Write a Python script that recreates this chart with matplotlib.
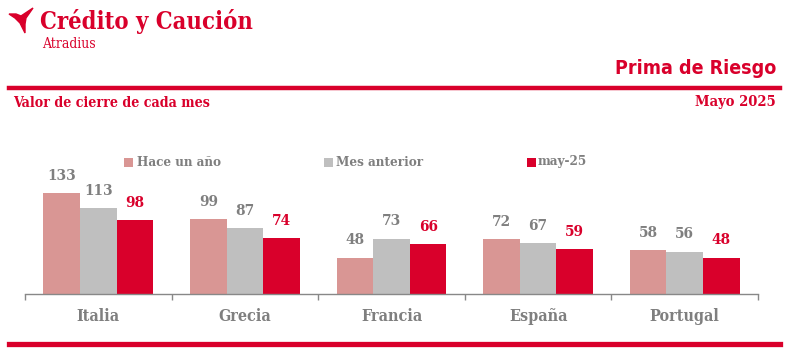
import matplotlib
matplotlib.use("Agg")
import matplotlib.pyplot as plt
from matplotlib.patches import Polygon
import numpy as np

countries = ["Italia", "Grecia", "Francia", "España", "Portugal"]
series_names = ["Hace un año", "Mes anterior", "may-25"]
hace_un_ano = [133, 99, 48, 72, 58]
mes_anterior = [113, 87, 73, 67, 56]
may_25 = [98, 74, 66, 59, 48]

RED = "#D9002B"
PINK = "#D99694"
LGRAY = "#BFBFBF"
TGRAY = "#7F7F7F"
colors = [PINK, LGRAY, RED]
label_colors = [TGRAY, TGRAY, RED]

W, H = 789, 354
fig = plt.figure(figsize=(W / 100, H / 100), dpi=100)

SERIF = {"family": "DejaVu Serif", "stretch": "condensed", "weight": "bold"}
SANS = {"family": "DejaVu Sans", "stretch": "condensed", "weight": "bold"}

def fx(x):
    return x / W

def fy(y):
    return 1 - y / H

# Header
fig.text(fx(40), fy(21), "Crédito y Caución", color=RED, fontsize=17, va="center", ha="left", **SERIF)
fig.text(fx(42), fy(44), "Atradius", color=RED, fontsize=10, va="center", ha="left", family="DejaVu Serif", stretch="condensed")
logo = [(9, 14), (16, 14), (21, 16), (33, 8), (26, 18), (25, 24), (25, 33), (20, 23), (15, 18)]
fig.patches.append(Polygon([(fx(x), fy(y)) for x, y in logo], closed=True, transform=fig.transFigure, color=RED))

fig.text(fx(776), fy(69), "Prima de Riesgo", color=RED, fontsize=14, va="center", ha="right", **SANS)
fig.add_artist(plt.Line2D([fx(9), fx(780)], [fy(87.5), fy(87.5)], color=RED, lw=3.2, transform=fig.transFigure))
fig.text(fx(13), fy(103), "Valor de cierre de cada mes", color=RED, fontsize=10.2, va="center", ha="left", **SERIF)
fig.text(fx(776), fy(102), "Mayo 2025", color=RED, fontsize=10.5, va="center", ha="right", **SERIF)
fig.add_artist(plt.Line2D([fx(9), fx(780)], [fy(343.5), fy(343.5)], color=RED, lw=3.8, transform=fig.transFigure))

# Axes
ax_left, ax_right, ax_bottom, ax_top = 25, 758, 294, 140
ax = fig.add_axes([fx(ax_left), fy(ax_bottom), fx(ax_right - ax_left), (ax_bottom - ax_top) / H])
ax.set_ylim(0, (ax_bottom - ax_top) / 0.758)
ax.set_xlim(-0.5, len(countries) - 0.5)

x = np.arange(len(countries))
bw = 0.25
data = [hace_un_ano, mes_anterior, may_25]
for i, (vals, c, lc, name) in enumerate(zip(data, colors, label_colors, series_names)):
    pos = x + (i - 1) * bw
    ax.bar(pos, vals, width=bw, color=c, label=name, linewidth=0)
    for p, v in zip(pos, vals):
        ax.annotate(str(v), (p, v), xytext=(0, 9.5), textcoords="offset points",
                    ha="center", va="baseline", color=lc, fontsize=11, **SERIF)

for s in ["top", "right", "left"]:
    ax.spines[s].set_visible(False)
ax.spines["bottom"].set_color("#888888")
ax.spines["bottom"].set_linewidth(1.0)
ax.set_yticks([])
ax.set_xticks(np.arange(len(countries) + 1) - 0.5, minor=False)
ax.set_xticklabels([""] * (len(countries) + 1))
ax.tick_params(axis="x", which="major", length=4, color="#888888", width=1.0, direction="out")
ax.set_xticks(x, minor=True)
ax.set_xticklabels(countries, minor=True)
ax.tick_params(axis="x", which="minor", length=0, pad=10, labelcolor=TGRAY, labelsize=11.5)
for t in ax.get_xticklabels(minor=True):
    t.set_fontfamily("DejaVu Serif")
    t.set_fontstretch("condensed")
    t.set_fontweight("bold")

# Legend (manual placement to match reference)
leg_items = [(124, 137), (324, 336), (527, 538)]
for (sx, tx), name, c in zip(leg_items, series_names, colors):
    fig.patches.append(plt.Rectangle((fx(sx), fy(166.5)), fx(9), 9 / H, transform=fig.transFigure, color=c, lw=0))
    fig.text(fx(tx), fy(162), name, color=TGRAY, fontsize=9.6, va="center", ha="left", **SERIF)

fig.savefig("out.png", dpi=100)
